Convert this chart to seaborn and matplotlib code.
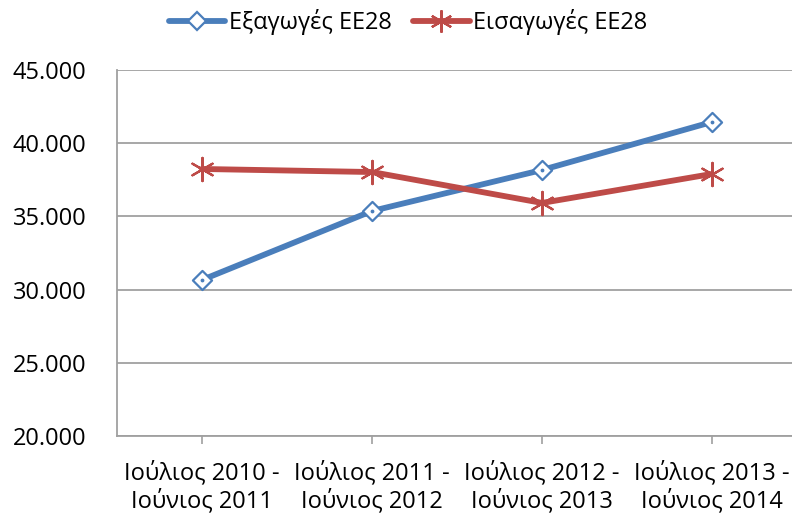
import matplotlib
matplotlib.use("Agg")
import matplotlib.pyplot as plt
import seaborn as sns
import pandas as pd
from matplotlib.ticker import FuncFormatter
from matplotlib.lines import Line2D

categories = ["Ιούλιος 2010 -\nΙούνιος 2011", "Ιούλιος 2011 -\nΙούνιος 2012",
              "Ιούλιος 2012 -\nΙούνιος 2013", "Ιούλιος 2013 -\nΙούνιος 2014"]
exports = [30660, 35370, 38170, 41450]
imports = [38240, 38030, 35920, 37900]
series_names = ["Εξαγωγές ΕΕ28", "Εισαγωγές ΕΕ28"]

sns.set_theme(style="white")
plt.rcParams['font.family'] = ['Open Sans', 'DejaVu Sans']
plt.rcParams['text.color'] = 'black'
plt.rcParams['xtick.color'] = 'black'
plt.rcParams['ytick.color'] = 'black'

FS = 17

df = pd.DataFrame({
    "x": list(range(len(categories))) * 2,
    "value": exports + imports,
    "series": [series_names[0]] * 4 + [series_names[1]] * 4,
})

fig = plt.figure(figsize=(7.92, 5.15), dpi=100)
ax = fig.add_axes([117/792, 79/515, 680/792, 366/515])

colors = {series_names[0]: "#4a7ebb", series_names[1]: "#be4b48"}
sns.lineplot(data=df, x="x", y="value", hue="series", palette=colors, ax=ax,
             linewidth=4.2, legend=False, sort=False)

# markers
ax.scatter(range(4), exports, marker="D", s=95, facecolor="white",
           edgecolor="#4a7ebb", linewidth=1.6, zorder=5)
ax.scatter(range(4), exports, marker="o", s=3, color="#4a7ebb", zorder=6)
ax.scatter(range(4), imports, marker=(6, 2, 0), s=280, color="#be4b48",
           linewidth=1.6, zorder=5)

ax.set_xlim(-0.5, 3.5)
ax.set_ylim(20000, 45000)
ax.set_yticks(range(20000, 45001, 5000))
ax.yaxis.set_major_formatter(FuncFormatter(lambda v, p: f"{int(v):,}".replace(",", ".")))
ax.set_xticks(range(4))
ax.set_xticklabels(categories, fontsize=FS, linespacing=1.15)
ax.tick_params(axis="y", labelsize=FS, length=0, pad=22, labelcolor="black")
ax.tick_params(axis="x", length=6, width=1.2, color="#a0a0a0", pad=12,
               direction="out", labelcolor="black")
ax.xaxis.set_ticks_position("bottom")
ax.grid(axis="y", color="#a0a0a0", linewidth=1.3)
ax.set_axisbelow(True)
for s in ["top", "right"]:
    ax.spines[s].set_visible(False)
for s in ["left", "bottom"]:
    ax.spines[s].set_color("#a0a0a0")
    ax.spines[s].set_linewidth(1.3)
ax.set_xlabel("")
ax.set_ylabel("")

h1 = Line2D([0], [0], color="#4a7ebb", lw=4.2, marker="D", markersize=9,
            markerfacecolor="white", markeredgecolor="#4a7ebb", markeredgewidth=1.6)
h2 = Line2D([0], [0], color="#be4b48", lw=4.2, marker=(6, 2, 0), markersize=16,
            markeredgecolor="#be4b48", markeredgewidth=1.6)
fig.legend([h1, h2], series_names, loc="center", bbox_to_anchor=(408/792, 1 - 22/515),
           ncol=2, frameon=False, fontsize=FS, handlelength=2.4, columnspacing=0.9,
           handletextpad=0.15)

fig.savefig("out.png", dpi=100)
